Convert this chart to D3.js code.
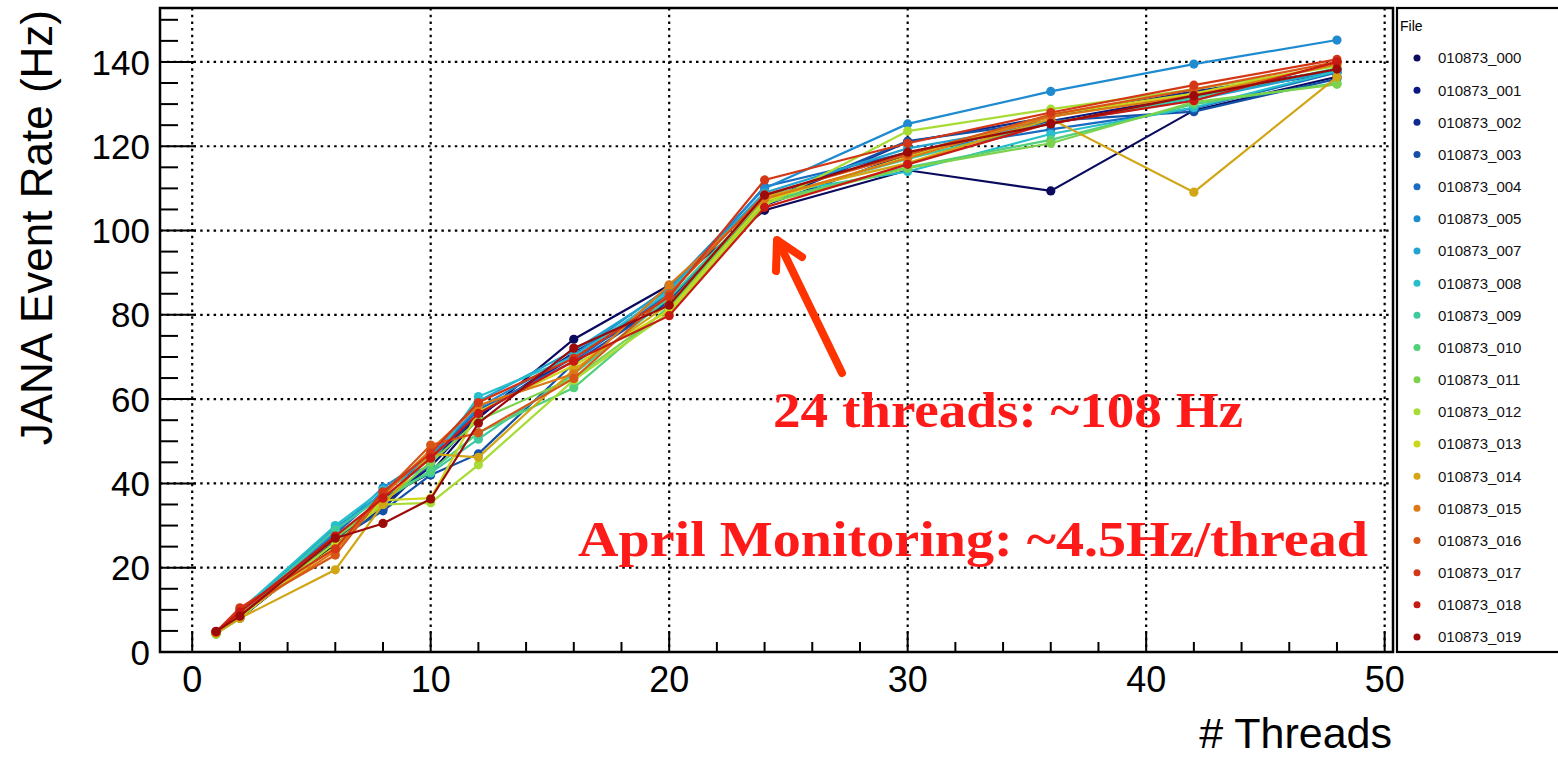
<!DOCTYPE html>
<html>
<head>
<meta charset="utf-8">
<script src="https://cdn.jsdelivr.net/npm/d3@7"></script>
<style>
html,body{margin:0;padding:0;background:#fff;}
svg{display:block;}
</style>
</head>
<body>
<svg id="chart" width="1558" height="757"></svg>
<script>
const threads = [1, 2, 6, 8, 10, 12, 16, 20, 24, 30, 36, 42, 48];
const fileNames = ["010873_000","010873_001","010873_002","010873_003","010873_004","010873_005","010873_007","010873_008","010873_009","010873_010","010873_011","010873_012","010873_013","010873_014","010873_015","010873_016","010873_017","010873_018","010873_019"];
const fileColors = ["#0a0a5e","#0c1682","#0e2a8e","#1450a8","#1a6cc0","#1e8bd0","#22a3d0","#26bfcb","#3ec99e","#52d07a","#7bd24c","#a8dc35","#ccd61a","#d2a514","#db7a14","#d75617","#d43716","#c81a12","#9c0a0a"];
const rate000 = [4.6, 8.2, 25.5, 36.5, 42.5, 55.5, 74.2, 87.0, 104.8, 114.3, 109.4, 128.5, 136.5];
const rate001 = [4.5, 8.0, 26.0, 35.0, 44.0, 56.0, 71.0, 84.0, 106.0, 118.0, 126.0, 132.0, 137.5];
const rate002 = [4.5, 8.5, 27.0, 34.0, 45.0, 56.5, 70.0, 83.0, 106.5, 121.0, 127.0, 133.0, 138.0];
const rate003 = [4.4, 8.8, 26.5, 33.5, 42.0, 47.0, 68.5, 83.5, 107.0, 121.2, 126.0, 128.2, 136.0];
const rate004 = [4.5, 9.0, 28.0, 38.0, 46.0, 57.5, 69.0, 85.0, 110.4, 118.5, 124.0, 129.0, 137.5];
const rate005 = [4.6, 9.2, 28.5, 39.0, 46.5, 58.0, 70.5, 86.5, 110.0, 125.3, 133.0, 139.5, 145.2];
const rate007 = [4.5, 9.5, 29.5, 37.5, 47.0, 59.5, 71.5, 86.0, 109.0, 119.5, 125.5, 131.0, 138.0];
const rate008 = [4.5, 9.8, 30.0, 38.5, 44.5, 60.6, 70.0, 85.5, 108.5, 114.0, 122.9, 129.2, 137.8];
const rate009 = [4.4, 9.0, 29.0, 37.0, 42.5, 50.5, 66.0, 84.0, 107.5, 117.0, 125.5, 131.5, 138.5];
const rate010 = [4.2, 8.5, 27.5, 36.0, 43.0, 52.0, 62.7, 82.0, 107.0, 115.0, 121.5, 130.0, 135.0];
const rate011 = [4.3, 8.0, 27.0, 35.5, 45.0, 55.0, 65.0, 81.5, 106.5, 114.8, 120.7, 130.5, 134.7];
const rate012 = [4.3, 8.2, 26.0, 35.0, 35.4, 44.4, 64.5, 80.5, 106.0, 123.6, 128.8, 133.5, 139.0];
const rate013 = [4.4, 8.5, 25.0, 36.0, 36.5, 57.0, 68.0, 81.0, 107.0, 117.5, 127.5, 132.5, 139.5];
const rate014 = [4.5, 8.0, 19.5, 35.0, 47.0, 46.2, 67.0, 82.5, 108.0, 116.0, 126.5, 109.1, 136.4];
const rate015 = [4.6, 9.0, 24.0, 37.0, 48.0, 58.5, 66.0, 87.1, 107.5, 117.2, 127.0, 132.0, 139.5];
const rate016 = [4.7, 10.0, 23.0, 37.5, 49.1, 52.0, 64.9, 85.0, 108.5, 118.0, 127.5, 133.5, 140.0];
const rate017 = [4.8, 10.5, 24.5, 38.0, 47.2, 59.2, 69.7, 84.3, 112.0, 120.7, 128.0, 134.5, 140.6];
const rate018 = [4.8, 9.5, 27.5, 36.5, 46.0, 56.6, 69.0, 79.8, 105.5, 115.7, 125.5, 130.8, 140.0];
const rate019 = [4.9, 8.5, 27.0, 30.5, 36.3, 54.3, 72.1, 82.3, 108.4, 118.6, 125.3, 132.0, 138.3];
const xTicks = [0, 10, 20, 30, 40, 50];
const yTicks = [0, 20, 40, 60, 80, 100, 120, 140];
const xTitle = "# Threads";
const yTitle = "JANA Event Rate (Hz)";
const legendTitle = "File";
const note1 = "24 threads: ~108 Hz";
const note2 = "April Monitoring: ~4.5Hz/thread";

const allRates = [rate000,rate001,rate002,rate003,rate004,rate005,rate007,rate008,rate009,rate010,rate011,rate012,rate013,rate014,rate015,rate016,rate017,rate018,rate019];
const series = fileNames.map((name, i) => ({
  name, color: fileColors[i],
  points: threads.map((t, j) => ({x: t, y: allRates[i][j]}))
}));

const svg = d3.select("#chart");
const L = 160, R = 1393, T = 8, B = 652;
const x = d3.scaleLinear().domain([-1.35, 50.35]).range([L, R]);
const y = d3.scaleLinear().domain([0, 152.8]).range([B, T]);
const sans = "'Liberation Sans', Arial, Helvetica, sans-serif";

// grid
const grid = svg.append("g");
grid.selectAll("line.gx").data(xTicks).join("line")
  .attr("x1", d => x(d)).attr("x2", d => x(d)).attr("y1", T).attr("y2", B)
  .attr("stroke", "#000").attr("stroke-width", 2.2).attr("stroke-dasharray", "2.5,4.2");
grid.selectAll("line.gy").data(yTicks.filter(d => d > 0)).join("line")
  .attr("x1", L).attr("x2", R).attr("y1", d => y(d)).attr("y2", d => y(d))
  .attr("stroke", "#000").attr("stroke-width", 2.2).attr("stroke-dasharray", "2.5,4.2");

// minor/major ticks
const xMinor = d3.range(0, 51, 2);
const yMinor = d3.range(0, 151, 5);
const ticks = svg.append("g").attr("stroke", "#000").attr("stroke-width", 2);
ticks.selectAll("line.xt").data(xMinor).join("line")
  .attr("x1", d => x(d)).attr("x2", d => x(d)).attr("y1", B)
  .attr("y2", d => B - (d % 10 === 0 ? 20 : 10));
ticks.selectAll("line.yt").data(yMinor).join("line")
  .attr("y1", d => y(d)).attr("y2", d => y(d)).attr("x1", L)
  .attr("x2", d => L + (d % 20 === 0 ? 36 : 18));

// series
const line = d3.line().x(d => x(d.x)).y(d => y(d.y));
const sg = svg.append("g");
series.forEach(s => {
  const g = sg.append("g");
  g.append("path").attr("d", line(s.points)).attr("fill", "none")
    .attr("stroke", s.color).attr("stroke-width", 2.2);
  g.selectAll("circle").data(s.points).join("circle")
    .attr("cx", d => x(d.x)).attr("cy", d => y(d.y)).attr("r", 4.6)
    .attr("fill", s.color);
});

// frame
svg.append("rect").attr("x", L).attr("y", T).attr("width", R - L).attr("height", B - T)
  .attr("fill", "none").attr("stroke", "#000").attr("stroke-width", 2.5);

// tick labels
svg.append("g").selectAll("text").data(xTicks).join("text")
  .attr("x", d => x(d)).attr("y", 692).attr("text-anchor", "middle")
  .attr("font-family", sans).attr("font-size", 36).text(d => d);
svg.append("g").selectAll("text").data(yTicks).join("text")
  .attr("x", 150).attr("y", d => y(d)).attr("dy", "0.36em").attr("text-anchor", "end")
  .attr("font-family", sans).attr("font-size", 35).text(d => d);

// axis titles
svg.append("text").attr("x", 1392).attr("y", 748).attr("text-anchor", "end")
  .attr("font-family", sans).attr("font-size", 43).text(xTitle);
svg.append("text").attr("transform", "translate(52,10) rotate(-90)")
  .attr("text-anchor", "end").attr("font-family", sans).attr("font-size", 44).text(yTitle);

// legend
const lg = svg.append("g");
lg.append("rect").attr("x", 1397).attr("y", 8).attr("width", 170).attr("height", 644)
  .attr("fill", "#fff").attr("stroke", "#000").attr("stroke-width", 2.2);
lg.append("text").attr("x", 1400).attr("y", 31).attr("font-family", sans)
  .attr("font-size", 14).text(legendTitle);
const ly = d3.scaleLinear().domain([0, fileNames.length - 1]).range([58, 637]);
const items = lg.selectAll("g.item").data(series).join("g")
  .attr("transform", (d, i) => `translate(0,${ly(i)})`);
items.append("circle").attr("cx", 1417).attr("cy", 0).attr("r", 3.5).attr("fill", d => d.color);
items.append("text").attr("x", 1438).attr("y", 0).attr("dy", "0.36em")
  .attr("font-family", sans).attr("font-size", 15).attr("fill", "#111").text(d => d.name);

// annotations
const serif = "'Liberation Serif', 'Times New Roman', serif";
svg.append("text").attr("x", 773).attr("y", 427).attr("font-family", serif)
  .attr("font-weight", "bold").attr("font-size", 50).attr("fill", "#ff1a1a")
  .attr("textLength", 470).attr("lengthAdjust", "spacingAndGlyphs").text(note1);
svg.append("text").attr("x", 578).attr("y", 556).attr("font-family", serif)
  .attr("font-weight", "bold").attr("font-size", 50).attr("fill", "#ff1a1a")
  .attr("textLength", 790).attr("lengthAdjust", "spacingAndGlyphs").text(note2);

// arrow
const ag = svg.append("g").attr("stroke", "#ff3300").attr("stroke-width", 8)
  .attr("stroke-linecap", "round").attr("fill", "none");
ag.append("line").attr("x1", 842).attr("y1", 373).attr("x2", 778).attr("y2", 241);
ag.append("polyline").attr("points", "776,271 777,240 802,257")
  .attr("stroke-linejoin", "round");
</script>
</body>
</html>
